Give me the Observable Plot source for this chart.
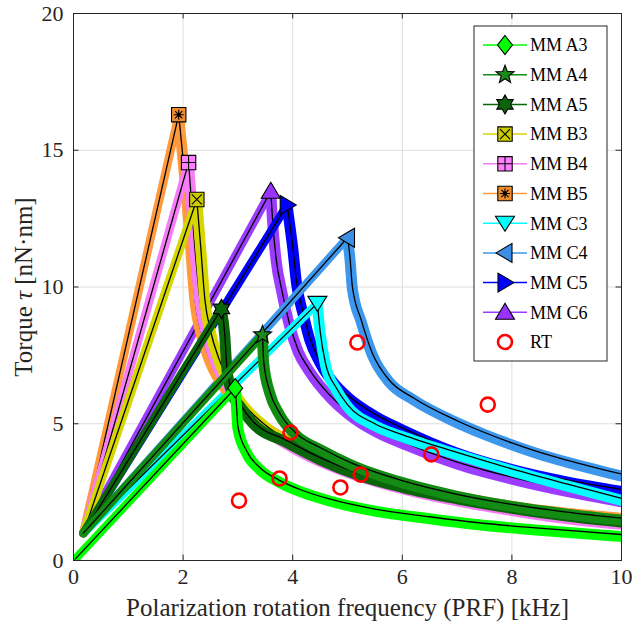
<!DOCTYPE html>
<html><head><meta charset="utf-8">
<script src="https://cdn.jsdelivr.net/npm/d3@7"></script>
<script src="https://cdn.jsdelivr.net/npm/@observablehq/plot@0.6"></script>
<style>
body{margin:0;background:#fff;}
#chart{width:632px;height:627px;}
</style></head><body><div id="chart"></div>
<script>
// ---- data ----
const xTicks = [0, 2, 4, 6, 8, 10];
const yTicks = [0, 5, 10, 15, 20];
const seriesNames = ["MM A3","MM A4","MM A5","MM B3","MM B4","MM B5","MM C3","MM C4","MM C5","MM C6"];

const A3_f = [0.03, 2.95, 2.97, 3.0, 3.16, 3.4, 3.76, 4.18, 4.67, 5.5, 6.5, 7.4, 8.5, 10];
const A3_t = [0.05, 6.3, 5.8, 4.9, 4.0, 3.4, 2.93, 2.56, 2.25, 1.88, 1.6, 1.38, 1.18, 0.95];
const A4_f = [0.18, 3.45, 3.47, 3.58, 3.76, 4.07, 4.5, 5.1, 6, 7, 8, 9, 10];
const A4_t = [1.0, 8.25, 7.3, 6.2, 5.4, 4.64, 4.13, 3.54, 2.92, 2.42, 2.05, 1.77, 1.55];
const A5_f = [0.18, 2.7, 2.76, 2.8, 2.89, 3.04, 3.27, 3.89, 4.49, 5.22, 6, 7, 8, 9, 10];
const A5_t = [1.0, 9.2, 8.3, 7.06, 6.2, 5.7, 5.1, 4.39, 3.77, 3.18, 2.75, 2.33, 1.98, 1.7, 1.48];
const B3_f = [0.18, 2.25, 2.32, 2.4, 2.5, 2.65, 2.8, 3.0, 3.5, 4, 5, 6, 7, 8, 9, 10];
const B3_t = [1.0, 13.2, 11.5, 9.5, 8.4, 7.4, 6.7, 6.0, 4.95, 4.3, 3.4, 2.8, 2.35, 2.0, 1.72, 1.5];
const B4_f = [0.18, 2.1, 2.2, 2.31, 2.45, 2.6, 2.8, 3.0, 3.5, 4, 5, 6, 7, 8, 9, 10];
const B4_t = [1.0, 14.55, 11.8, 9.5, 8.2, 7.3, 6.5, 5.9, 4.85, 4.2, 3.3, 2.7, 2.25, 1.9, 1.6, 1.4];
const B5_f = [0.18, 1.92, 2.1, 2.22, 2.35, 2.5, 2.75, 3.0, 3.5, 4, 5, 6, 7, 8, 9, 10];
const B5_t = [1.0, 16.3, 12.5, 9.5, 8.2, 7.3, 6.4, 5.85, 4.95, 4.35, 3.45, 2.85, 2.4, 2.05, 1.8, 1.62];
const C3_f = [0.18, 4.45, 4.5, 4.6, 4.8, 5.0, 5.5, 6, 7, 8, 9, 10];
const C3_t = [1.0, 9.4, 8.4, 7.2, 6.3, 5.7, 5.0, 4.6, 3.95, 3.35, 2.8, 2.27];
const C4_f = [0.18, 5.0, 5.04, 5.09, 5.25, 5.45, 5.76, 6.2, 7.0, 7.5, 8.0, 8.5, 9.0, 10];
const C4_t = [1.0, 11.8, 11.2, 10.0, 8.8, 7.6, 6.6, 5.95, 5.11, 4.68, 4.3, 3.96, 3.67, 3.16];
const C5_f = [0.18, 3.9, 4.0, 4.07, 4.2, 4.31, 4.5, 4.73, 5.0, 5.5, 6, 7, 8, 9, 10];
const C5_t = [1.0, 13.0, 11.5, 10.2, 9.0, 8.15, 7.3, 6.6, 6.05, 5.35, 4.85, 4.0, 3.4, 2.95, 2.6];
const C6_f = [0.18, 3.6, 3.65, 3.7, 3.8, 3.95, 4.1, 4.3, 4.7, 5.0, 5.5, 6, 7, 8, 9, 10];
const C6_t = [1.0, 13.5, 12, 11, 9.9, 8.6, 7.7, 7.0, 6.0, 5.45, 4.8, 4.35, 3.6, 3.05, 2.6, 2.22];

const RT_f = [3.02, 3.76, 3.96, 4.87, 5.18, 5.24, 6.53, 7.56];
const RT_t = [2.19, 3.0, 4.68, 2.67, 7.97, 3.14, 3.88, 5.7];

// ---- styles ----
const freqs = [A3_f, A4_f, A5_f, B3_f, B4_f, B5_f, C3_f, C4_f, C5_f, C6_f];
const torques = [A3_t, A4_t, A5_t, B3_t, B4_t, B5_t, C3_t, C4_t, C5_t, C6_t];
const bandColors = ["#00ff00","#138c13","#0a640a","#d6d600","#f77cf7","#ff9a3c","#00ffff","#3d97ec","#0000ff","#9b3cff"];
const fillColors = ["#00ff00","#1a8a1a","#0a640a","#cccc00","#ff80ff","#f08c30","#00ffff","#3d8fe6","#0000ff","#9933ff"];

const diamond = {draw(c){c.moveTo(0,-9.5);c.lineTo(7.5,0);c.lineTo(0,9.5);c.lineTo(-7.5,0);c.closePath();}};
const star5 = {draw(c){const R=9.5,r=R*0.42;for(let i=0;i<10;i++){const a=-Math.PI/2+i*Math.PI/5;const rr=i%2?r:R;const x=rr*Math.cos(a),y=rr*Math.sin(a);i?c.lineTo(x,y):c.moveTo(x,y);}c.closePath();}};
const hexagram = {draw(c){const R=9.5,r=R/Math.sqrt(3);for(let i=0;i<12;i++){const a=-Math.PI/2+i*Math.PI/6;const rr=i%2?r:R;const x=rr*Math.cos(a),y=rr*Math.sin(a);i?c.lineTo(x,y):c.moveTo(x,y);}c.closePath();}};
function sq(c,h){c.moveTo(-h,-h);c.lineTo(h,-h);c.lineTo(h,h);c.lineTo(-h,h);c.closePath();}
const squareX = {draw(c){const h=7.2,k=5;sq(c,h);c.moveTo(-k,-k);c.lineTo(k,k);c.moveTo(k,-k);c.lineTo(-k,k);}};
const squarePlus = {draw(c){const h=7.2;sq(c,h);c.moveTo(0,-h);c.lineTo(0,h);c.moveTo(-h,0);c.lineTo(h,0);}};
const squareAst = {draw(c){const h=7.2,k=5,d=3.6;sq(c,h);c.moveTo(0,-k);c.lineTo(0,k);c.moveTo(-k,0);c.lineTo(k,0);c.moveTo(-d,-d);c.lineTo(d,d);c.moveTo(d,-d);c.lineTo(-d,d);c.moveTo(1.6,0);c.arc(0,0,1.6,0,2*Math.PI);}};
const triUp = {draw(c){c.moveTo(0,-9);c.lineTo(9.5,7);c.lineTo(-9.5,7);c.closePath();}};
const triDown = {draw(c){c.moveTo(0,8);c.lineTo(9.5,-7);c.lineTo(-9.5,-7);c.closePath();}};
const triLeft = {draw(c){c.moveTo(-9,0);c.lineTo(7,-9.5);c.lineTo(7,9.5);c.closePath();}};
const triRight = {draw(c){c.moveTo(9,0);c.lineTo(-7,-9.5);c.lineTo(-7,9.5);c.closePath();}};
const symbols = [diamond, star5, hexagram, squareX, squarePlus, squareAst, triDown, triLeft, triRight, triUp];

// ---- build tables ----
const rise = [], decay = [];
const peaks = [];
seriesNames.forEach((s, i) => {
  const t = torques[i], f = freqs[i];
  const pk = t.indexOf(Math.max(...t));
  peaks.push({series: s, f: f[pk], t: t[pk], i});
  f.forEach((x, j) => {
    const r = {series: s, f: x, t: t[j]};
    if (j <= pk) rise.push(r);
    if (j >= pk) decay.push(r);
  });
});
const rt = RT_f.map((f, i) => ({f, t: RT_t[i]}));

const lineMarks = [];
for (let i = seriesNames.length - 1; i >= 0; i--) {
  const s = seriesNames[i];
  const r = rise.filter(d => d.series === s), dc = decay.filter(d => d.series === s);
  lineMarks.push(Plot.line(r, {x: "f", y: "t", stroke: bandColors[i], strokeWidth: 8.5, strokeLinejoin: "round", strokeLinecap: "round", clip: true}));
  lineMarks.push(Plot.line(dc, {x: "f", y: "t", curve: "monotone-x", stroke: bandColors[i], strokeWidth: 11, dy: 2, strokeLinejoin: "round", strokeLinecap: "round", clip: true}));
  lineMarks.push(Plot.line(r, {x: "f", y: "t", stroke: "#000", strokeWidth: 1.3, clip: true}));
  lineMarks.push(Plot.line(dc, {x: "f", y: "t", curve: "monotone-x", stroke: "#000", strokeWidth: 1.3, clip: true}));
}
const markerMarks = peaks.map(p => Plot.dot([p], {x: "f", y: "t", symbol: symbols[p.i], r: 8, fill: fillColors[p.i], stroke: "#000", strokeWidth: 1.1}));

const serif = '"Liberation Serif", "Times New Roman", serif';
const chart = Plot.plot({
  width: 632, height: 627,
  marginLeft: 73, marginRight: 11, marginTop: 13, marginBottom: 67,
  x: {domain: [0, 10]},
  y: {domain: [0, 20]},
  style: {fontSize: "22px", color: "#262626", background: "#fff", overflow: "visible"},
  marks: [
    Plot.gridX(xTicks, {stroke: "#dedede", strokeOpacity: 1, strokeWidth: 1}),
    Plot.gridY(yTicks, {stroke: "#dedede", strokeOpacity: 1, strokeWidth: 1}),
    ...lineMarks,
    ...markerMarks,
    Plot.dot(rt, {x: "f", y: "t", r: 7, stroke: "#ff0000", strokeWidth: 2.6, fill: "none"}),
    Plot.ruleX(xTicks, {y1: 0, y2: 0.2, stroke: "#262626"}),
    Plot.ruleX(xTicks, {y1: 20, y2: 19.8, stroke: "#262626"}),
    Plot.ruleY(yTicks, {x1: 0, x2: 0.1, stroke: "#262626"}),
    Plot.ruleY(yTicks, {x1: 10, x2: 9.9, stroke: "#262626"}),
    Plot.frame({stroke: "#262626", strokeWidth: 1}),
    Plot.axisX(xTicks, {tickSize: 0, tickPadding: 8, fontSize: 22, label: "Polarization rotation frequency (PRF) [kHz]", labelAnchor: "center", labelArrow: "none", labelOffset: 55}),
    Plot.axisY(yTicks, {tickSize: 0, tickPadding: 10, fontSize: 22, label: "Torque τ [nN·nm]", labelAnchor: "center", labelArrow: "none", labelOffset: 59})
  ]
});
document.getElementById("chart").appendChild(chart);

const svg = d3.select(chart);
svg.selectAll("[aria-label='x-axis label'] text, [aria-label='y-axis label'] text").style("font-size", "25px");
// italic tau
svg.selectAll("[aria-label='y-axis label'] text").each(function () {
  const t = d3.select(this); t.text(null);
  t.append("tspan").text("Torque ");
  t.append("tspan").style("font-style", "italic").text("τ");
  t.append("tspan").text(" [nN·nm]");
});

// ---- legend ----
const lg = svg.append("g").attr("text-anchor", "start");
const lx = 474, ly = 26, lw = 133, lh = 335, step = 29.7;
lg.append("rect").attr("x", lx).attr("y", ly).attr("width", lw).attr("height", lh).attr("fill", "#fff").attr("stroke", "#262626").attr("stroke-width", 1);
const entries = seriesNames.map((s, i) => ({label: s, i})).concat([{label: "RT", i: -1}]);
entries.forEach((e, k) => {
  const cy = ly + 19 + k * step;
  const g = lg.append("g");
  if (e.i >= 0) {
    g.append("line").attr("x1", lx + 9).attr("x2", lx + 53).attr("y1", cy).attr("y2", cy).attr("stroke", bandColors[e.i]).attr("stroke-width", 1.5);
    g.append("path").attr("transform", `translate(${lx + 31},${cy})`).attr("d", d3.symbol(symbols[e.i])()).attr("fill", fillColors[e.i]).attr("stroke", "#000").attr("stroke-width", 1.1);
  } else {
    g.append("circle").attr("cx", lx + 31).attr("cy", cy).attr("r", 7).attr("fill", "none").attr("stroke", "#ff0000").attr("stroke-width", 2.6);
  }
  g.append("text").attr("x", lx + 56).attr("y", cy).attr("dy", "0.35em").attr("fill", "#000").attr("text-anchor", "start").style("font-size", "18px").text(e.label);
});
// force serif font on every text
svg.selectAll("text, tspan").each(function () { this.style.setProperty("font-family", serif, "important"); });
svg.node().style.setProperty("font-family", serif, "important");
</script></body></html>
